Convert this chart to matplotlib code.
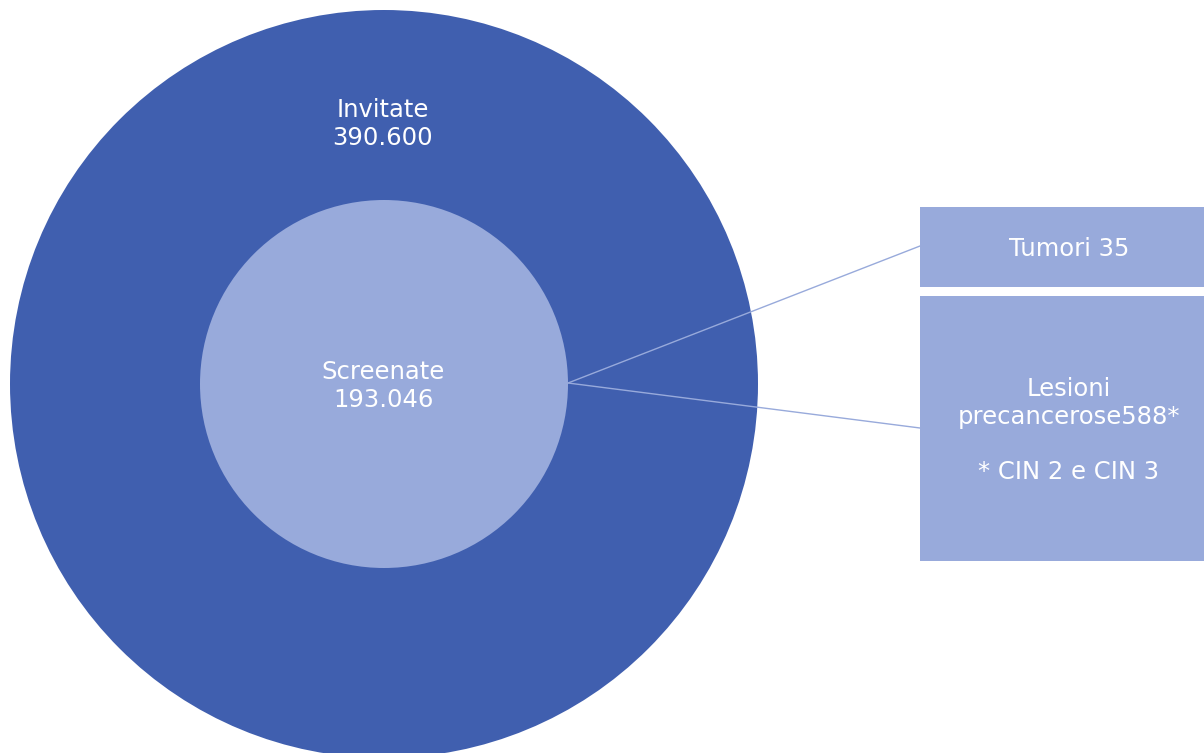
import matplotlib.pyplot as plt
from matplotlib.patches import Circle, Rectangle

# values shown in the diagram
ring_labels = ["Invitate", "Screenate"]
ring_values = ["390.600", "193.046"]
box_labels = ["Tumori 35", "Lesioni\nprecancerose588*\n\n* CIN 2 e CIN 3"]

dark = "#405FAF"
light = "#98AADB"

fig = plt.figure(figsize=(12.04, 7.53), dpi=100)
ax = fig.add_axes([0, 0, 1, 1])
ax.set_xlim(0, 1204)
ax.set_ylim(753, 0)
ax.set_aspect("equal")
ax.axis("off")

cx, cy = 384, 384
ax.add_patch(Circle((cx, cy), 374, color=dark, lw=0))
ax.add_patch(Circle((cx, cy), 184, color=light, lw=0))

# connectors from the inner circle to the boxes
ax.plot([568, 920], [383, 246], color=light, lw=1)
ax.plot([568, 920], [383, 428], color=light, lw=1)

# boxes: (x, y_top, width, height)
boxes = [(920, 207, 284, 80), (920, 296, 284, 265)]
for (bx, by, bw, bh), lab in zip(boxes, box_labels):
    ax.add_patch(Rectangle((bx, by), bw, bh, color=light, lw=0))
    ax.text(bx + bw / 2 + 7, by + bh / 2 + 2, lab, ha="center", va="center",
            color="white", fontsize=17.5, linespacing=1.2)

label_pos = [(383, 124), (383, 386)]
for (tx, ty), lab, val in zip(label_pos, ring_labels, ring_values):
    ax.text(tx, ty, f"{lab}\n{val}", ha="center", va="center",
            color="white", fontsize=17.5, linespacing=1.18)

fig.savefig("out.png", dpi=100)
